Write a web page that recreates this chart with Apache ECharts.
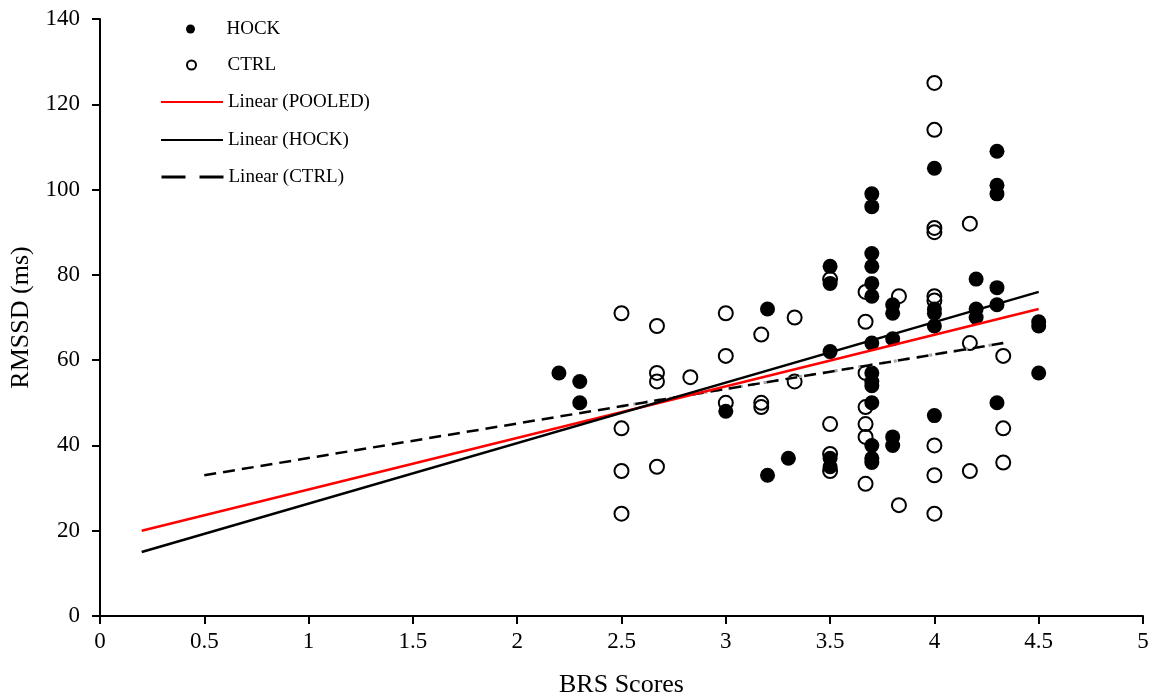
<!DOCTYPE html>
<html>
<head>
<meta charset="utf-8">
<script src="https://cdn.jsdelivr.net/npm/echarts@6/dist/echarts.min.js"></script>
<style>
  html, body { margin: 0; padding: 0; background: #fff; }
  #chart { width: 1154px; height: 696px; }
</style>
</head>
<body>
<div id="chart"></div>
<script>
// BRS score / RMSSD pairs
const hockPoints = [
  [2.2, 57], [2.3, 55], [2.3, 50], [3.0, 48], [3.2, 72], [3.2, 33], [3.3, 37],
  [3.5, 82], [3.5, 78], [3.5, 62], [3.5, 37], [3.5, 35],
  [3.7, 99], [3.7, 96], [3.7, 85], [3.7, 82], [3.7, 78], [3.7, 75], [3.7, 64],
  [3.7, 57], [3.7, 55], [3.7, 54], [3.7, 50], [3.7, 40], [3.7, 37], [3.7, 36],
  [3.8, 73], [3.8, 71], [3.8, 65], [3.8, 42], [3.8, 40],
  [4.0, 105], [4.0, 72], [4.0, 71], [4.0, 68], [4.0, 47],
  [4.2, 79], [4.2, 72], [4.2, 70],
  [4.3, 109], [4.3, 101], [4.3, 99], [4.3, 77], [4.3, 73], [4.3, 50],
  [4.5, 69], [4.5, 68], [4.5, 57]
];
const ctrlPoints = [
  [2.5, 71], [2.5, 44], [2.5, 34], [2.5, 24],
  [2.67, 68], [2.67, 57], [2.67, 55], [2.67, 35],
  [2.83, 56],
  [3.0, 71], [3.0, 61], [3.0, 50],
  [3.17, 66], [3.17, 50], [3.17, 49],
  [3.33, 70], [3.33, 55],
  [3.5, 79], [3.5, 45], [3.5, 38], [3.5, 34],
  [3.67, 76], [3.67, 69], [3.67, 57], [3.67, 49], [3.67, 45], [3.67, 42], [3.67, 31],
  [3.83, 75], [3.83, 26],
  [4.0, 125], [4.0, 114], [4.0, 91], [4.0, 90], [4.0, 75], [4.0, 74], [4.0, 40], [4.0, 33], [4.0, 24],
  [4.17, 92], [4.17, 64], [4.17, 34],
  [4.33, 61], [4.33, 44], [4.33, 36]
];
// trend line end points
const pooledLine = [[0.2, 20], [4.5, 72]];
const hockLine = [[0.2, 15], [4.5, 76]];
const ctrlLine = [[0.5, 33], [4.33, 64]];
const ctrlLineShort = [[2.5, 49.2], [4.33, 64]];

const serif = '"Liberation Serif", "DejaVu Serif", serif';

function legendRow(name, center, left, iconH, hideSymbol) {
  const row = {
    data: [name],
    left: left,
    top: center - 10,
    padding: 0,
    itemWidth: 62,
    itemHeight: iconH,
    itemGap: 0,
    selectedMode: false,
    textStyle: { fontFamily: serif, fontSize: 19, color: '#000', lineHeight: 20 }
  };
  if (hideSymbol) row.itemStyle = { opacity: 0 };
  return row;
}

const ctrlLegend = legendRow('Linear (CTRL)', 177, 160, 14, true);
ctrlLegend.lineStyle = { type: [24, 14], width: 3 };

const chart = echarts.init(document.getElementById('chart'));
chart.setOption({
  animation: false,
  backgroundColor: '#fff',
  legend: [
    legendRow('HOCK', 29, 186, 9, false),
    legendRow('CTRL', 65, 186, 9, false),
    legendRow('Linear (POOLED)', 102, 160, 14, true),
    legendRow('Linear (HOCK)', 140, 160, 14, true),
    ctrlLegend
  ],
  grid: { left: 100, right: 11, top: 19, bottom: 80, outerBoundsMode: 'none' },
  xAxis: {
    type: 'value',
    min: 0, max: 5, interval: 0.5,
    name: 'BRS Scores',
    nameLocation: 'middle',
    nameGap: 56,
    nameTextStyle: { fontFamily: serif, fontSize: 26, color: '#000' },
    axisLine: { lineStyle: { color: '#000', width: 2 } },
    axisTick: { show: true, length: 8, lineStyle: { color: '#000', width: 2 } },
    axisLabel: { fontFamily: serif, fontSize: 23, color: '#000', margin: 14 },
    splitLine: { show: false }
  },
  yAxis: {
    type: 'value',
    min: 0, max: 140, interval: 20,
    name: 'RMSSD (ms)',
    nameLocation: 'middle',
    nameGap: 63,
    nameTextStyle: { fontFamily: serif, fontSize: 26, color: '#000' },
    axisLine: { show: true, lineStyle: { color: '#000', width: 2 } },
    axisTick: { show: true, length: 8, lineStyle: { color: '#000', width: 2 } },
    axisLabel: { fontFamily: serif, fontSize: 23, color: '#000', margin: 20 },
    splitLine: { show: false }
  },
  series: [
    {
      name: 'CTRL',
      type: 'scatter',
      data: ctrlPoints,
      symbolSize: 14,
      itemStyle: { color: 'rgba(255,255,255,0)', borderColor: '#000', borderWidth: 2, opacity: 1 }
    },
    {
      name: 'HOCK',
      type: 'scatter',
      data: hockPoints,
      symbolSize: 15,
      itemStyle: { color: '#000', opacity: 1 }
    },
    {
      name: 'ctrl-range',
      type: 'line',
      data: ctrlLineShort,
      symbol: 'none',
      lineStyle: { color: '#a6a6a6', width: 3, type: [3, 9] }
    },
    {
      name: 'Linear (CTRL)',
      type: 'line',
      data: ctrlLine,
      symbol: 'none',
      itemStyle: { color: '#000' },
      lineStyle: { color: '#000', width: 2.5, type: [12, 7] }
    },
    {
      name: 'Linear (POOLED)',
      type: 'line',
      data: pooledLine,
      symbol: 'none',
      itemStyle: { color: '#ff0000' },
      lineStyle: { color: '#ff0000', width: 2.5 }
    },
    {
      name: 'Linear (HOCK)',
      type: 'line',
      data: hockLine,
      symbol: 'none',
      itemStyle: { color: '#000' },
      lineStyle: { color: '#000', width: 2.5 }
    }
  ]
});
</script>
</body>
</html>
